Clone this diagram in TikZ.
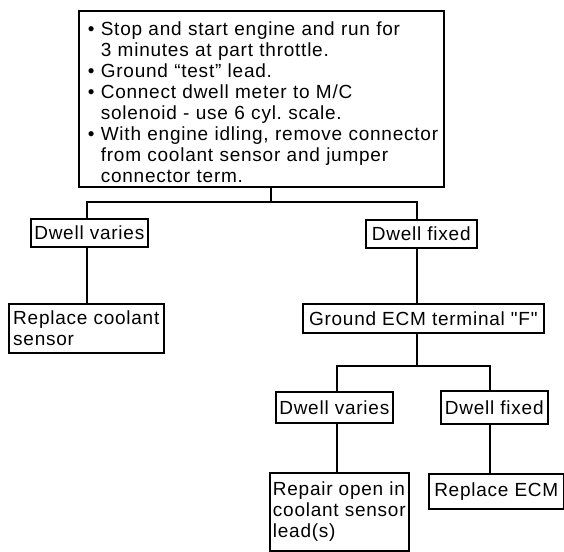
\documentclass[tikz,border=0pt]{standalone}
\usepackage{fontspec}
\setmainfont{Liberation Sans}[LetterSpace=4]
% same face without the TeX quote mapping, for straight double quotes
\newfontfamily\straightq{Liberation Sans}[LetterSpace=4,Ligatures=TeXOff]
% bulleted paragraph with hanging indent for the continuation lines
\newcommand\bul[1]{\par\hangindent=13pt\hangafter=1\noindent\makebox[13pt][l]{\textbullet}#1\par}
\frenchspacing
\begin{document}
\begin{tikzpicture}[x=1pt,y=-1pt,
  box/.style={draw, line width=1.6pt, inner xsep=3pt, inner ysep=2pt,
    align=left, anchor=north west, font=\fontsize{19}{21}\selectfont},
  link/.style={line width=1.6pt}]
\useasboundingbox (0,0) rectangle (564,551);

% boxes
\node[box, minimum width=365pt, minimum height=176pt, text width=347pt, inner xsep=9pt] (top) at (78,10)
  {\bul{Stop and start engine and run for\newline 3 minutes at part throttle.}%
   \bul{Ground “test” lead.}%
   \bul{Connect dwell meter to M/C\newline solenoid - use 6 cyl.\ scale.}%
   \bul{With engine idling, remove connector\newline from coolant sensor and jumper\newline connector term.}};
\node[box, minimum width=117pt, minimum height=28pt] (dv1) at (30,218) {Dwell varies};
\node[box, minimum width=111pt, minimum height=28pt] (df1) at (365,219) {Dwell fixed};
\node[box, minimum width=155pt, minimum height=49pt] (rc) at (8,303) {Replace coolant\\sensor};
\node[box, minimum width=241pt, minimum height=29pt] (gnd) at (302,303) {Ground ECM terminal {\straightq"F"}};
\node[box, minimum width=117pt, minimum height=31pt] (dv2) at (275,391) {Dwell varies};
\node[box, minimum width=107pt, minimum height=33pt] (df2) at (440,390) {Dwell fixed};
\node[box, minimum width=139pt, minimum height=78pt] (rep) at (269,472) {Repair open in\\coolant sensor\\lead(s)};
\node[box, minimum width=135pt, minimum height=35pt] (recm) at (428,473) {Replace ECM};

% branch points
\coordinate (j1) at (271,202);
\coordinate (b1l) at (87,202);
\coordinate (b1r) at (417,202);
\coordinate (j2) at (417,366);
\coordinate (b2l) at (337,366);
\coordinate (b2r) at (490,366);

% connectors
\draw[link] (top.south -| j1) -- (j1);
\draw[link] (dv1.north -| b1l) -- (b1l) -- (b1r) -- (df1.north -| b1r);
\draw[link] (dv1.south -| b1l) -- (rc.north -| b1l);
\draw[link] (df1.south -| b1r) -- (gnd.north -| b1r);
\draw[link] (gnd.south -| j2) -- (j2);
\draw[link] (dv2.north -| b2l) -- (b2l) -- (b2r) -- (df2.north -| b2r);
\draw[link] (dv2.south -| b2l) -- (rep.north -| b2l);
\draw[link] (df2.south -| b2r) -- (recm.north -| b2r);
\end{tikzpicture}
\end{document}
